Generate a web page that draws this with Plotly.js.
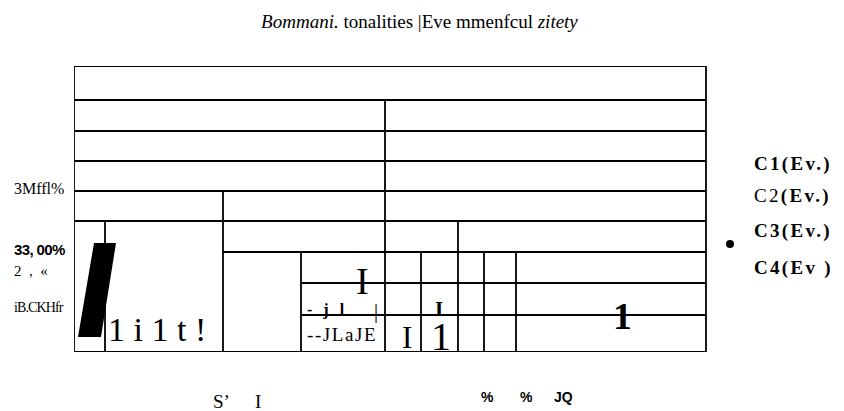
<!DOCTYPE html>
<html>
<head>
<meta charset="utf-8">
<script src="https://cdn.plot.ly/plotly-3.0.1.min.js"></script>
<style>html,body{margin:0;padding:0;background:#fff;}#chart{width:844px;height:411px;}</style>
</head>
<body>
<div id="chart"></div>
<script>
// ---- grid data (in plot units) ----
const hRuleY  = [0, 34, 65, 95, 125, 155, 186, 217, 249, 286];
const hRuleX0 = [0, 0, 0, 0, 0, 0, 149, 227, 227, 0];
const hRuleX1 = [632, 632, 632, 632, 632, 632, 632, 632, 632, 632];

const vRuleX  = [0, 311, 149, 31, 384, 227, 347, 410, 442, 632];
const vRuleY0 = [0, 34, 125, 155, 155, 186, 186, 186, 186, 0];
const vRuleY1 = [286, 286, 286, 286, 286, 286, 286, 286, 286, 286];

// slanted black bar
const barX = [20, 42, 27, 4];
const barY = [177, 177, 271, 271];

// legend dot
const dotX = [656];
const dotY = [178];

// text labels
const titleText = "<i>Bommani.</i> tonalities |Eve mmenfcul <i>zitety</i>";
const yLabels = ["3Mffl%", "<b>33, 00%</b>", "2\u00a0\u00a0,\u00a0\u00a0\u00ab", "iB.CKHfr"];
const cellTexts = ["1 i 1 t !", "I", "<b>- j l</b>", "|", "--JLaJE", "I", "<b>I</b>", "1", "<b>1</b>"];
const legendTexts = ["<b>C1(Ev.)</b>", "C2<b>(Ev.)</b>", "<b>C3(Ev.)</b>", "<b>C4(Ev\u00a0)</b>"];
const bottomTexts = ["S\u02bc", "I", "<b>%</b>", "<b>%</b>", "<b>JQ</b>"];

// build line trace
const gx = [], gy = [];
for (let i = 0; i < hRuleY.length; i++) { gx.push(hRuleX0[i], hRuleX1[i], null); gy.push(hRuleY[i], hRuleY[i], null); }
for (let i = 0; i < vRuleX.length; i++) { gx.push(vRuleX[i], vRuleX[i], null); gy.push(vRuleY0[i], vRuleY1[i], null); }

const SERIF = "Liberation Serif, Times New Roman, serif";
const SANS = "Liberation Sans, Arial, sans-serif";
const XW = 770, YH = 286;

const traces = [
  {type:'scatter', mode:'lines', x:gx, y:gy, line:{color:'#000', width:1.8}, hoverinfo:'skip', showlegend:false, cliponaxis:false},
  {type:'scatter', mode:'lines', x:barX.concat([barX[0]]), y:barY.concat([barY[0]]), fill:'toself', fillcolor:'#000', line:{color:'#000', width:0}, hoverinfo:'skip', showlegend:false},
  {type:'scatter', mode:'markers', x:dotX, y:dotY, marker:{color:'#000', size:8}, hoverinfo:'skip', showlegend:false, cliponaxis:false}
];

const ann = [];
const spacing = [];
// positions given in plot units; converted to paper fractions so text outside the frame is kept
function add(text, x, y, font, xanchor, ls) {
  ann.push({text:text, x:x / XW, y:1 - y / YH, xref:'paper', yref:'paper', showarrow:false,
            xanchor:xanchor||'center', yanchor:'middle', font:Object.assign({color:'#000'}, font)});
  spacing.push({ls:ls||0, anchor:xanchor||'center'});
}
// y-side labels
add(yLabels[0], -62, 122, {family:SERIF, size:16}, 'left');
add(yLabels[1], -62, 183, {family:SANS, size:15}, 'left', -0.6);
add(yLabels[2], -62, 205, {family:SERIF, size:15}, 'left');
add(yLabels[3], -62, 241, {family:SERIF, size:14}, 'left', -0.9);
// cell texts
add(cellTexts[0], 32, 263, {family:SERIF, size:34}, 'left');
add(cellTexts[1], 288, 215, {family:SERIF, size:38});
add(cellTexts[2], 231, 244, {family:SERIF, size:16}, 'left', 3.5);
add(cellTexts[3], 302, 245, {family:SERIF, size:20});
add(cellTexts[4], 231, 268, {family:SERIF, size:19}, 'left', 1.6);
add(cellTexts[5], 333, 271, {family:SERIF, size:31});
add(cellTexts[6], 365, 243, {family:SERIF, size:21});
add(cellTexts[7], 367, 270, {family:SERIF, size:40});
add(cellTexts[8], 548, 250, {family:SERIF, size:38});
// legend labels
const legY = [98, 130, 165, 202];
for (let i = 0; i < legendTexts.length; i++) add(legendTexts[i], 678, legY[i], {family:SERIF, size:19}, 'left', 2.3);
// bottom labels
add(bottomTexts[0], 147, 335, {family:SERIF, size:19});
add(bottomTexts[1], 184, 335, {family:SERIF, size:19});
add(bottomTexts[2], 414, 331, {family:SANS, size:14});
add(bottomTexts[3], 452, 331, {family:SANS, size:14});
add(bottomTexts[4], 489, 331, {family:SANS, size:14});

const layout = {
  width:844, height:411,
  margin:{l:74, r:0, t:66, b:59},
  paper_bgcolor:'#fff', plot_bgcolor:'#fff',
  title:{text:titleText, font:{family:SERIF, size:19, color:'#000'}, x:0.497, xanchor:'center', y:0.949, yanchor:'middle'},
  xaxis:{range:[0,XW], visible:false, fixedrange:true},
  yaxis:{range:[YH,0], visible:false, fixedrange:true},
  showlegend:false,
  annotations:ann
};

Plotly.newPlot('chart', traces, layout, {staticPlot:true, displayModeBar:false}).then(function(){
  const groups = document.querySelectorAll('#chart .annotation');
  groups.forEach(function(g){
    const idx = +g.getAttribute('data-index');
    const s = spacing[idx];
    if (s && s.ls) {
      const t = g.querySelector('text');
      if (!t) return;
      const w0 = t.getComputedTextLength();
      t.style.letterSpacing = s.ls + 'px';
      const w1 = t.getComputedTextLength();
      const x = parseFloat(t.getAttribute('x')) || 0;
      if (s.anchor === 'left') t.setAttribute('x', x + (w1 - w0) / 2);
    }
  });
});
</script>
</body>
</html>
